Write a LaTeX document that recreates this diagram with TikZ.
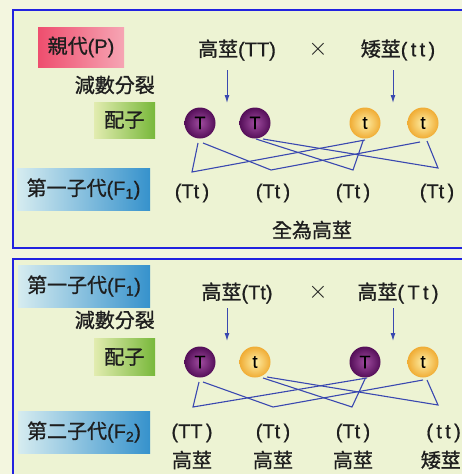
\documentclass[tikz,border=0pt]{standalone}
\usepackage{fontspec}
\setmainfont[FakeBold=0.6]{Liberation Sans}
\newfontfamily\cjk[FakeBold=1]{Noto Sans CJK TC}
\usetikzlibrary{arrows.meta}
\definecolor{bgc}{HTML}{F3F6DF}
\definecolor{panel}{HTML}{EDF3D3}
\definecolor{framec}{HTML}{2222E0}
\definecolor{lnc}{HTML}{3A48B0}
\definecolor{txt}{HTML}{1E1E1E}
\tikzset{
  lbl/.style={font=\fontsize{20}{23}\selectfont, inner sep=0pt, text=txt},
  pinkbox/.style={left color={rgb,255:red,238;green,78;blue,110}, right color={rgb,255:red,246;green,165;blue,180}, draw=none, inner sep=0pt, text=txt, font=\fontsize{20}{23}\selectfont},
  greenbox/.style={left color={rgb,255:red,226;green,236;blue,176}, right color={rgb,255:red,120;green,184;blue,58}, draw=none, inner sep=0pt, text=txt, font=\fontsize{20}{23}\selectfont},
  bluebox/.style={left color={rgb,255:red,214;green,236;blue,240}, right color={rgb,255:red,54;green,146;blue,204}, draw=none, inner sep=0pt, text=txt, font=\fontsize{20}{23}\selectfont},
  gbig/.style={circle, minimum size=31pt, inner sep=0pt, inner color={rgb,255:red,160;green,76;blue,160}, outer color={rgb,255:red,84;green,14;blue,88}, font=\fontsize{18}{18}\selectfont, text=black},
  gsmall/.style={circle, minimum size=31pt, inner sep=0pt, inner color={rgb,255:red,253;green,238;blue,165}, outer color={rgb,255:red,240;green,172;blue,52}, font=\fontsize{18}{18}\selectfont, text=black},
  link/.style={draw=lnc, line width=1.1pt},
  arr/.style={draw=lnc, line width=1pt, -{Latex[length=8pt,width=5pt]}},
  frameline/.style={draw=framec, line width=1.6pt, fill=panel},
  crossmark/.style={font=\fontsize{24}{24}\selectfont, inner sep=0pt, text=txt}
}
\begin{document}
\begin{tikzpicture}[x=1pt,y=-1pt]
\useasboundingbox (0,0) rectangle (462,474);
\clip (0,0) rectangle (462,474);
\fill[bgc] (0,0) rectangle (462,474);
% panels
\path[frameline] (13,10) rectangle (480,248);
\path[frameline] (13,259) rectangle (480,490);

% ===== top panel =====
\node[pinkbox, minimum width=86pt, minimum height=40pt] (pP) at (81,47) {{\cjk 親代}(P)};
\node[lbl, anchor=east] (mei1) at (155,85) {\cjk 減數分裂};
\node[greenbox, minimum width=61pt, minimum height=36pt] (gz1) at (124.5,120) {\cjk 配子};
\node[bluebox, minimum width=133pt, minimum height=42pt] (f1a) at (83.5,189) {{\cjk 第一子代}(F\textsubscript{1})};

\node[lbl] (tall1) at (237,50) {{\cjk 高莖}(TT)};
\node[crossmark] (x1) at (318,49) {$\times$};
\node[lbl] (short1) at (398,50) {{\cjk 矮莖}(\,t\,t\,)};

\coordinate (a1s) at (227,70); \coordinate (a1e) at (227,103);
\coordinate (a2s) at (393,70); \coordinate (a2e) at (393,103);
\draw[arr] (a1s) -- (a1e);
\draw[arr] (a2s) -- (a2e);

\node[gbig] (T1) at (200,123) {T};
\node[gbig] (T2) at (255,123) {T};
\node[gsmall] (t1) at (365,123) {t};
\node[gsmall] (t2) at (423,123) {t};

\coordinate (p1) at (192,172);
\coordinate (p2) at (271,170);
\coordinate (p3) at (353,170);
\coordinate (p4) at (438,168);
\coordinate (T1a) at (198,143); \coordinate (T1b) at (203,143);
\coordinate (T2a) at (256,139); \coordinate (T2b) at (263,139);
\coordinate (t1a) at (365,140); \coordinate (t1b) at (363,141);
\coordinate (t2a) at (420,142); \coordinate (t2b) at (427,141);
\draw[link] (T1a) -- (p1) -- (t1a);
\draw[link] (T1b) -- (p2) -- (t2a);
\draw[link] (T2a) -- (p3) -- (t1b);
\draw[link] (T2b) -- (p4) -- (t2b);

\node[lbl] (o1) at (192,193) {(Tt\,)};
\node[lbl] (o2) at (273,193) {(Tt\,)};
\node[lbl] (o3) at (353,193) {(Tt\,)};
\node[lbl] (o4) at (437,193) {(Tt\,)};
\node[lbl] (all) at (312,230) {\cjk 全為高莖};

% ===== bottom panel =====
\node[bluebox, minimum width=132pt, minimum height=42pt] (f1b) at (84,286) {{\cjk 第一子代}(F\textsubscript{1})};
\node[lbl, anchor=east] (mei2) at (155,320) {\cjk 減數分裂};
\node[greenbox, minimum width=61pt, minimum height=37pt] (gz2) at (124.5,357) {\cjk 配子};
\node[bluebox, minimum width=132pt, minimum height=42pt] (f2) at (84,432) {{\cjk 第二子代}(F\textsubscript{2})};

\node[lbl] (tall2) at (237,293) {{\cjk 高莖}(Tt)};
\node[crossmark] (x2) at (318,292) {$\times$};
\node[lbl] (tall3) at (398,293) {{\cjk 高莖}(\,T\,t\,)};

\coordinate (b1s) at (227,308); \coordinate (b1e) at (227,341);
\coordinate (b2s) at (393,308); \coordinate (b2e) at (393,341);
\draw[arr] (b1s) -- (b1e);
\draw[arr] (b2s) -- (b2e);

\node[gbig] (U1) at (200,362) {T};
\node[gsmall] (u1) at (255,362) {t};
\node[gbig] (U2) at (365,362) {T};
\node[gsmall] (u2) at (423,362) {t};

\coordinate (q1) at (193,407);
\coordinate (q2) at (273,407);
\coordinate (q3) at (352,407);
\coordinate (q4) at (438,405);
\coordinate (U1a) at (199,382); \coordinate (U1b) at (203,382);
\coordinate (u1a) at (263,378); \coordinate (u1b) at (267,377);
\coordinate (U2a) at (367,378); \coordinate (U2b) at (365,379);
\coordinate (u2a) at (423,380); \coordinate (u2b) at (427,380);
\draw[link] (U1a) -- (q1) -- (U2a);
\draw[link] (U1b) -- (q2) -- (u2a);
\draw[link] (u1a) -- (q3) -- (U2b);
\draw[link] (u1b) -- (q4) -- (u2b);

\node[lbl] (r1) at (192,433) {(TT\,)};
\node[lbl] (r2) at (273,433) {(Tt\,)};
\node[lbl] (r3) at (353,433) {(Tt\,)};
\node[lbl, anchor=east] (r4) at (461,433) {(\,t\,t\,)};
\node[lbl] (h1) at (192,460) {\cjk 高莖};
\node[lbl] (h2) at (273,460) {\cjk 高莖};
\node[lbl] (h3) at (353,460) {\cjk 高莖};
\node[lbl, anchor=east] (h4) at (461,460) {\cjk 矮莖};
\end{tikzpicture}
\end{document}
